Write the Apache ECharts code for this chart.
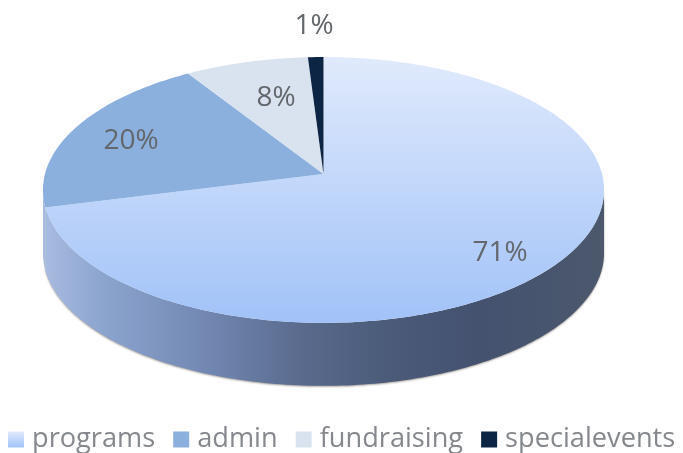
<!DOCTYPE html>
<html>
<head>
<meta charset="utf-8">
<title>Pie</title>
<script src="https://cdn.jsdelivr.net/npm/echarts@6/dist/echarts.min.js"></script>
<style>
  html, body { margin: 0; padding: 0; background: #fff; }
  #main { width: 683px; height: 453px; }
</style>
</head>
<body>
<div id="main"></div>
<script>
const categories = ['programs', 'admin', 'fundraising', 'specialevents'];
const shares = [71, 20, 8, 1];
const labels = ['71%', '20%', '8%', '1%'];

// where each label's centre sits on the picture
const labelSpots = [[500, 253], [131, 141], [276, 98], [314, 26]];

const FONT = '"Open Sans", sans-serif';
// tilted disc: apex of the slices, half axes and perspective of the projection
const CX = 323.5, CY = 174, A = 278.5, B = 131, P = 0.12, DEPTH = 63;

const total = shares.reduce((a, b) => a + b, 0);

const topColors = [
  new echarts.graphic.LinearGradient(0, 0, 0, 1, [
    {offset: 0, color: '#e0eafc'},
    {offset: 1, color: '#a1c2f8'}
  ]),
  '#8bb0dd',
  '#d9e3f0',
  '#0d2545'
];
const wallColors = [
  new echarts.graphic.LinearGradient(0, 0, 1, 0, [
    {offset: 0, color: '#a8bbe0'},
    {offset: 0.1, color: '#8ca5cf'},
    {offset: 0.28, color: '#7389b4'},
    {offset: 0.46, color: '#596a8c'},
    {offset: 0.62, color: '#4a5a78'},
    {offset: 0.78, color: '#445270'},
    {offset: 1, color: '#4b586c'}
  ]),
  '#a7bbdf',
  '#b4c0d2',
  '#0b1c33'
];

// turn = 0..1 clockwise from the top of the disc
const rim = (turn, drop) => {
  const a = turn * Math.PI * 2;
  const u = Math.sin(a), v = -Math.cos(a);
  const d = 1 - P * v;
  return [CX + A * u / d, CY + B * v / d + (drop || 0)];
};
const arc = (from, to, drop) => {
  const pts = [];
  const steps = Math.max(2, Math.ceil((to - from) * 360));
  for (let i = 0; i <= steps; i++) {
    pts.push(rim(from + (to - from) * i / steps, drop));
  }
  return pts;
};

// the part of the rim that faces the viewer
const frontFrom = Math.acos(-P) / (Math.PI * 2);
const frontTo = 1 - frontFrom;

const sliceSeries = categories.map((name, idx) => {
  const before = shares.slice(0, idx).reduce((a, b) => a + b, 0);
  return {
    type: 'custom',
    name: name,
    coordinateSystem: 'none',
    silent: true,
    animation: false,
    itemStyle: {color: topColors[idx]},
    data: [shares[idx]],
    renderItem: (params, api) => {
      const from = before / total;
      const to = from + api.value(0) / total;
      const children = [];
      const wallFrom = Math.max(from, frontFrom), wallTo = Math.min(to, frontTo);
      if (wallTo > wallFrom) {
        const wallStyle = {fill: wallColors[idx]};
        if (idx === 0) {
          wallStyle.shadowBlur = 2;
          wallStyle.shadowColor = 'rgba(60,50,40,0.45)';
          wallStyle.shadowOffsetY = 1;
        }
        children.push({
          type: 'polygon',
          shape: {points: arc(wallFrom, wallTo, 0).concat(arc(wallFrom, wallTo, DEPTH).reverse())},
          style: wallStyle
        });
      }
      children.push({
        type: 'polygon',
        shape: {points: [[CX, CY]].concat(arc(from, to, 0))},
        style: {fill: topColors[idx]}
      });
      children.push({
        type: 'text',
        x: labelSpots[idx][0],
        y: labelSpots[idx][1],
        style: {
          text: labels[idx],
          fill: '#63676c',
          font: '28px ' + FONT,
          align: 'center',
          verticalAlign: 'middle'
        }
      });
      return {type: 'group', children: children};
    }
  };
});

const chart = echarts.init(document.getElementById('main'));
chart.setOption({
  animation: false,
  backgroundColor: '#fff',
  legend: {
    left: 8,
    top: 426,
    padding: 0,
    itemWidth: 16,
    itemHeight: 16,
    itemGap: 18,
    icon: 'rect',
    data: categories,
    selectedMode: false,
    textStyle: {
      color: '#85888c',
      fontSize: 27.2,
      fontFamily: FONT,
      padding: [0, 0, 0, 3]
    }
  },
  series: sliceSeries
});
</script>
</body>
</html>
